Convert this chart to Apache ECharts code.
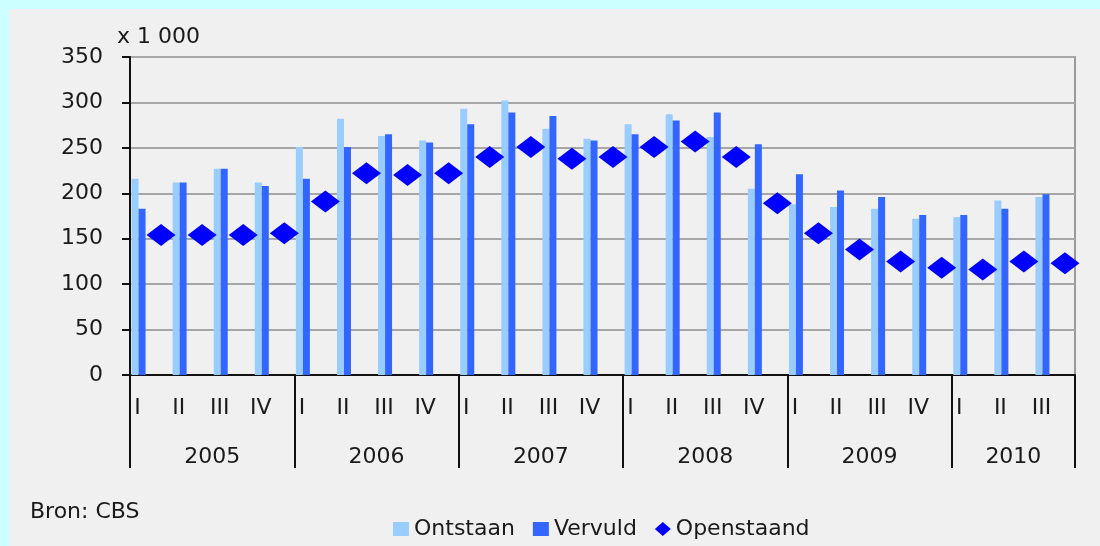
<!DOCTYPE html>
<html>
<head>
<meta charset="utf-8">
<script src="https://cdn.jsdelivr.net/npm/echarts@6/dist/echarts.min.js"></script>
<style>
    html, body { margin: 0; padding: 0; background: #ccffff; }
    #chart { position: absolute; left: 9px; top: 9px; width: 1091px; height: 537px; background: #f0f0f0; }
</style>
</head>
<body>
<div id="chart"></div>
<script>
var quarters = ['I', 'II', 'III', 'IV', 'I', 'II', 'III', 'IV', 'I', 'II', 'III', 'IV',
    'I', 'II', 'III', 'IV', 'I', 'II', 'III', 'IV', 'I', 'II', 'III'];
var years = ['2005', '2006', '2007', '2008', '2009', '2010'];
var yearMids = [2, 6, 10, 14, 18, 21.5];
var yearEdges = [0, 4, 8, 12, 16, 20, 23];

var ontstaan = [216, 212, 227, 212, 251, 282, 263, 258, 293, 302, 271, 260,
    276, 287, 262, 205, 188, 185, 183, 172, 174, 192, 196];
var vervuld = [183, 212, 227, 208, 216, 251, 265, 256, 276, 289, 285, 258,
    265, 280, 289, 254, 221, 203, 196, 176, 176, 183, 199];
var openstaand = [154, 154, 154, 156, 191, 222, 220, 222, 240, 251, 238, 240,
    251, 257, 240, 189, 156, 138, 125, 118, 116, 125, 123];

var font = 'DejaVu Sans';
var fontSize = 22;
var textColor = '#1a1a1a';

var option = {
    animation: false,
    textStyle: { fontFamily: font },
    title: [
        { text: 'x 1 000', left: 108, top: 17, padding: 0, textStyle: { fontFamily: font, fontSize: fontSize, fontWeight: 'normal', color: textColor } },
        { text: 'Bron: CBS', left: 21, top: 492, padding: 0, textStyle: { fontFamily: font, fontSize: fontSize, fontWeight: 'normal', color: textColor } }
    ],
    legend: {
        data: [
            { name: 'Ontstaan', icon: 'rect' },
            { name: 'Vervuld', icon: 'rect' },
            { name: 'Openstaand', icon: 'diamond' }
        ],
        left: 379,
        top: 504,
        itemWidth: 16,
        itemHeight: 14,
        itemGap: 18,
        textStyle: { fontFamily: font, fontSize: fontSize, color: textColor }
    },
    grid: {
        left: 121,
        right: 25,
        top: 48,
        bottom: 171,
        show: true,
        borderColor: '#999999',
        borderWidth: 2
    },
    xAxis: [
        {
            type: 'category',
            position: 'bottom',
            data: quarters,
            axisLine: { lineStyle: { color: '#111', width: 2 } },
            axisTick: { show: false },
            axisLabel: { margin: 22, fontSize: fontSize, color: textColor, padding: [0, 26, 0, 0] }
        },
        {
            type: 'value',
            position: 'bottom',
            min: 0,
            max: 23,
            axisLine: { show: false },
            splitLine: { show: false },
            axisTick: { show: true, customValues: yearEdges, length: 93, lineStyle: { color: '#111', width: 2 } },
            axisLabel: {
                customValues: yearMids,
                margin: 71,
                fontSize: fontSize,
                color: textColor,
                formatter: function (v) {
                    return years[yearMids.indexOf(v)];
                }
            }
        }
    ],
    yAxis: {
        type: 'value',
        min: 0,
        max: 350,
        interval: 50,
        axisLine: { show: true, lineStyle: { color: '#111', width: 2 } },
        axisTick: { show: true, length: 8, lineStyle: { color: '#111', width: 2 } },
        axisLabel: { margin: 27, fontSize: fontSize, color: textColor },
        splitLine: { lineStyle: { color: '#a6a6a6', width: 2 } }
    },
    series: [
        {
            name: 'Ontstaan',
            type: 'bar',
            barWidth: 7,
            barGap: '0%',
            itemStyle: { color: '#99ccff' },
            data: ontstaan
        },
        {
            name: 'Vervuld',
            type: 'bar',
            barWidth: 7,
            barGap: '0%',
            itemStyle: { color: '#3366ff' },
            data: vervuld
        },
        {
            // empty slot so the bar pair sits at the left of each quarter
            name: 'spacer',
            type: 'bar',
            barWidth: 24,
            barGap: '0%',
            silent: true,
            itemStyle: { color: 'transparent' },
            data: []
        },
        {
            name: 'Openstaand',
            type: 'scatter',
            symbol: 'diamond',
            symbolSize: [29, 22],
            symbolOffset: [10.5, 0],
            itemStyle: { color: '#0000ff', opacity: 1 },
            z: 5,
            data: openstaand
        }
    ]
};

var myChart = echarts.init(document.getElementById('chart'));
myChart.setOption(option);
</script>
</body>
</html>
